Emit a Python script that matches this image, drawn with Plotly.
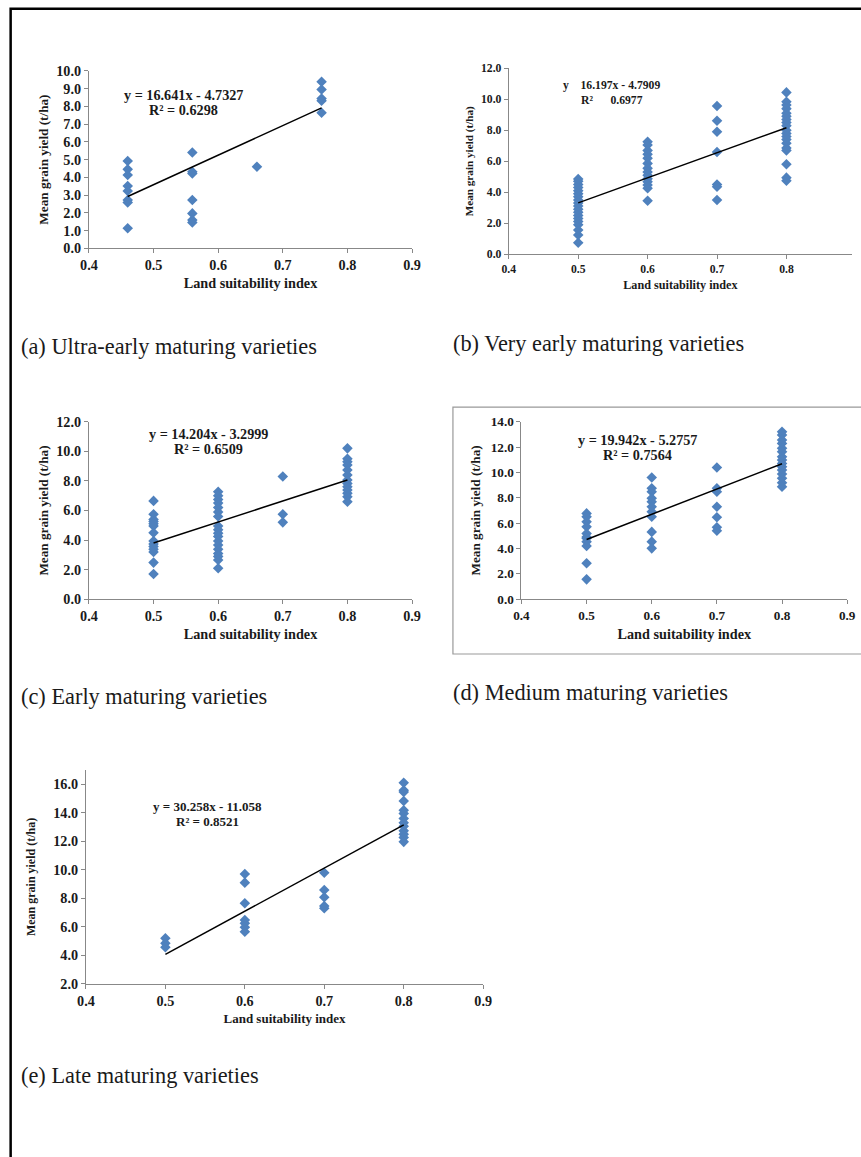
import plotly.graph_objects as go

# Figure size. The photographed page (8px body margin on each side) comes back scaled
# by 861/877 x 1157/1173, so target positions are mapped through that scale.
W, H = 861, 1157
OFF = 8
SX, SY = (W + 2 * OFF) / W, (H + 2 * OFF) / H
FS = 1.016  # font / marker compensation for that shrink

# ---------------- data ----------------
# (a) Ultra-early maturing varieties
a_x = [0.46]*8 + [0.56]*7 + [0.66] + [0.76]*5
a_y = [4.92, 4.45, 4.13, 3.51, 3.23, 2.72, 2.59, 1.13,
       5.40, 4.31, 4.22, 2.72, 1.97, 1.60, 1.46,
       4.60,
       9.38, 8.95, 8.44, 8.31, 7.64]
a_fit = (16.641, -4.7327)
a_eq = ["y = 16.641x - 4.7327", "R² = 0.6298"]

# (b) Very early maturing varieties
b_y05 = [0.73, 1.23, 1.55, 1.9, 2.1, 2.3, 2.5, 2.7, 2.9, 3.1, 3.3, 3.5, 3.7, 3.9, 4.1, 4.3, 4.5, 4.7, 4.85]
b_y06 = [7.26, 7.05, 6.70, 6.45, 6.20, 5.86, 5.54, 5.30, 5.10, 4.87, 4.68, 4.46, 4.25, 3.45]
b_y07 = [9.57, 8.62, 7.90, 6.60, 4.50, 4.35, 3.50]
b_y08 = [10.45, 9.85, 9.64, 9.40, 9.10, 8.90, 8.70, 8.50, 8.30, 8.00, 7.80, 7.60, 7.40, 7.16, 6.85, 6.70, 5.80, 4.94, 4.74]
b_x = [0.5]*len(b_y05) + [0.6]*len(b_y06) + [0.7]*len(b_y07) + [0.8]*len(b_y08)
b_y = b_y05 + b_y06 + b_y07 + b_y08
b_fit = (16.197, -4.7909)
b_eq = ["y\u00a0\u00a0\u00a0\u00a016.197x - 4.7909", "R²\u00a0\u00a0\u00a0\u00a0\u00a0\u00a00.6977"]

# (c) Early maturing varieties
c_y05 = [6.65, 5.75, 5.40, 5.25, 5.10, 4.95, 4.50, 3.94, 3.74, 3.56, 3.38, 3.20, 2.48, 1.71]
c_y06 = [7.27, 7.00, 6.75, 6.50, 6.20, 5.90, 5.60, 4.95, 4.70, 4.47, 4.25, 3.94, 3.67, 3.38, 3.10, 2.90, 2.66, 2.10]
c_y07 = [8.30, 5.75, 5.20]
c_y08 = [10.20, 9.50, 9.30, 9.08, 8.74, 8.40, 8.06, 7.83, 7.60, 7.38, 7.16, 6.93, 6.60]
c_x = [0.5]*len(c_y05) + [0.6]*len(c_y06) + [0.7]*len(c_y07) + [0.8]*len(c_y08)
c_y = c_y05 + c_y06 + c_y07 + c_y08
c_fit = (14.204, -3.2999)
c_eq = ["y = 14.204x - 3.2999", "R² = 0.6509"]

# (d) Medium maturing varieties
d_y05 = [6.76, 6.50, 6.10, 5.70, 5.18, 4.90, 4.79, 4.53, 4.18, 2.82, 1.55]
d_y06 = [9.60, 8.74, 8.47, 7.95, 7.68, 7.29, 6.90, 6.50, 5.30, 4.53, 4.00]
d_y07 = [10.39, 8.74, 8.47, 7.29, 6.45, 5.66, 5.39]
d_y08 = [13.20, 12.95, 12.55, 12.29, 11.90, 11.63, 11.24, 10.97, 10.70, 10.45, 10.18, 9.87, 9.53, 9.18, 8.87]
d_x = [0.5]*len(d_y05) + [0.6]*len(d_y06) + [0.7]*len(d_y07) + [0.8]*len(d_y08)
d_y = d_y05 + d_y06 + d_y07 + d_y08
d_fit = (19.942, -5.2757)
d_eq = ["y = 19.942x - 5.2757", "R² = 0.7564"]

# (e) Late maturing varieties
e_y05 = [5.20, 4.85, 4.57]
e_y06 = [9.70, 9.10, 7.65, 6.48, 6.25, 5.97, 5.66]
e_y07 = [9.80, 8.58, 8.07, 7.46, 7.30]
e_y08 = [16.10, 15.58, 15.46, 14.83, 14.18, 13.95, 13.60, 13.30, 13.06, 12.73, 12.50, 12.27, 11.96]
e_x = [0.5]*len(e_y05) + [0.6]*len(e_y06) + [0.7]*len(e_y07) + [0.8]*len(e_y08)
e_y = e_y05 + e_y06 + e_y07 + e_y08
e_fit = (30.258, -11.058)
e_eq = ["y = 30.258x - 11.058", "R² = 0.8521"]

captions = ["(a) Ultra-early maturing varieties", "(b) Very early maturing varieties",
            "(c) Early maturing varieties", "(d) Medium maturing varieties",
            "(e) Late maturing varieties"]

x_ticks = [0.4, 0.5, 0.6, 0.7, 0.8, 0.9]
x_title = "Land suitability index"
y_title = "Mean grain yield (t/ha)"

# ---------------- geometry helpers (target pixels -> paper fractions) ----------------
def fx(x):
    return x * SX - OFF

def fy(y):
    return y * SY - OFF

def px(x):
    return fx(x) / W

def py(y):
    return 1 - fy(y) / H

panels = [
    dict(x=a_x, y=a_y, fit=a_fit, eq=a_eq, box=(88, 412, 70.7, 248.3), yr=(0, 10), yt=list(range(0, 11)),
         eqpos=(183, 95), cap=(18, 346), ystand=4.5, xstand=5.5, ts=14, tk=14, es=14),
    dict(x=b_x, y=b_y, fit=b_fit, eq=b_eq, box=(509, 857, 68.3, 254), yr=(0, 12), yt=list(range(0, 13, 2)),
         eqpos=(612, 85), cap=(451, 343), ystand=4.5, xstand=5, ts=12, tk=11.5, es=11.5),
    dict(x=c_x, y=c_y, fit=c_fit, eq=c_eq, box=(88, 412, 421.7, 599.3), yr=(0, 12), yt=list(range(0, 13, 2)),
         eqpos=(208, 434), cap=(18, 697), ystand=4.5, xstand=5, ts=14, tk=14, es=14),
    dict(x=d_x, y=d_y, fit=d_fit, eq=d_eq, box=(521.7, 848.3, 421.7, 599), yr=(0, 14), yt=list(range(0, 15, 2)),
         eqpos=(638, 440), cap=(451, 693), ystand=7, xstand=7, ts=14, tk=13, es=14),
    dict(x=e_x, y=e_y, fit=e_fit, eq=e_eq, box=(85, 483.3, 770, 984), yr=(2, 17), yt=list(range(2, 17, 2)),
         eqpos=(207, 807), cap=(18, 1076), ystand=14.5, xstand=5, ts=12.8, tk=14, es=12.8),
]

SERIF = "Liberation Serif"
BLUE = "#4F81BD"
TXT = "#1a1a1a"

fig = go.Figure()
layout = dict(
    width=W, height=H, margin=dict(l=0, r=0, t=0, b=0),
    paper_bgcolor="white", plot_bgcolor="white", showlegend=False,
    font=dict(family=SERIF, color=TXT),
)
annotations = []
shapes = []

for i, p in enumerate(panels):
    n = "" if i == 0 else str(i + 1)
    xa, ya = "x" + n, "y" + n
    l, r, t, b = p["box"]
    # a panel running past the figure edge is cut there, keeping its scale
    right = min(r, (W + OFF) / SX)
    xmax = 0.4 + (right - l) / (r - l) * 0.5
    fig.add_trace(go.Scatter(x=p["x"], y=p["y"], mode="markers", xaxis=xa, yaxis=ya,
                             marker=dict(symbol="diamond", size=8 * FS, color=BLUE)))
    xs = [min(p["x"]), max(p["x"])]
    m, c0 = p["fit"]
    fig.add_trace(go.Scatter(x=xs, y=[m * v + c0 for v in xs], mode="lines", xaxis=xa, yaxis=ya,
                             line=dict(color="black", width=1.5)))
    layout["xaxis" + n] = dict(
        domain=[px(l), min(1.0, px(right))], range=[0.4, xmax], anchor=ya, tickvals=x_ticks,
        ticktext=[f"{v:.1f}" for v in x_ticks], showline=True, linecolor="#888", linewidth=1,
        ticks="outside", ticklen=4, tickcolor="#888", showgrid=False, zeroline=False,
        tickfont=dict(family=SERIF, size=p["tk"] * FS, color=TXT, weight="bold"),
        title=dict(text=x_title, font=dict(family=SERIF, size=p["ts"] * FS, color=TXT, weight="bold"),
                   standoff=p["xstand"]),
    )
    layout["yaxis" + n] = dict(
        domain=[py(b), py(t)], range=list(p["yr"]), anchor=xa, tickvals=p["yt"],
        ticktext=[f"{v:.1f}" for v in p["yt"]], showline=True, linecolor="#888", linewidth=1,
        ticks="outside", ticklen=4, tickcolor="#888", showgrid=False, zeroline=False,
        tickfont=dict(family=SERIF, size=p["tk"] * FS, color=TXT, weight="bold"),
        title=dict(text=y_title, font=dict(family=SERIF, size=(p["ts"] - 1) * FS, color=TXT, weight="bold"),
                   standoff=p["ystand"]),
    )
    ex, ey = p["eqpos"]
    for k, line in enumerate(p["eq"]):
        annotations.append(dict(x=px(ex), y=py(ey + 15 * k), xref="paper", yref="paper", text=line, showarrow=False,
                                font=dict(family=SERIF, size=p["es"] * FS, color=TXT, weight="bold"),
                                xanchor="center", yanchor="middle"))
    cx, cy = p["cap"]
    annotations.append(dict(x=px(cx), y=py(cy), xref="paper", yref="paper", text=captions[i], showarrow=False,
                            font=dict(family=SERIF, size=22 * FS, color=TXT), xanchor="left", yanchor="middle"))

# outer frame (runs off the right and bottom edges) and the thin box around panel (d)
shapes.append(dict(type="rect", xref="paper", yref="paper", x0=px(9.5), x1=1.05, y0=-0.05, y1=py(8.6),
                   line=dict(color="black", width=2.5)))
shapes.append(dict(type="rect", xref="paper", yref="paper", x0=px(453), x1=1.05, y0=py(654), y1=py(407),
                   line=dict(color="#999", width=1.2)))

layout["annotations"] = annotations
layout["shapes"] = shapes
fig.update_layout(**layout)
fig.write_html("out.html")
